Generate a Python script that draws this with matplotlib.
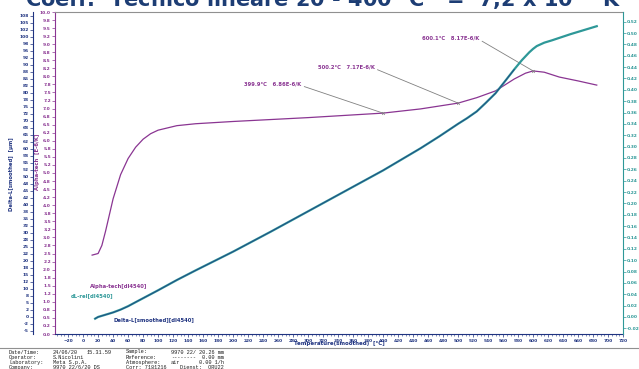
import numpy as np
import matplotlib
matplotlib.use("Agg")
import matplotlib.pyplot as plt
from matplotlib.ticker import FixedLocator, FuncFormatter, MultipleLocator
from matplotlib.lines import Line2D

# ---- data ----
t_alpha = [12, 20, 25, 30, 35, 40, 50, 60, 70, 80, 90, 100, 125, 150, 200, 250, 300,
           350, 400, 450, 500, 525, 550, 575, 590, 600, 615, 635, 660, 685]
alpha = [2.45, 2.5, 2.75, 3.2, 3.7, 4.2, 4.95, 5.45, 5.8, 6.05, 6.22, 6.33, 6.47, 6.53,
         6.6, 6.66, 6.72, 6.79, 6.86, 6.99, 7.17, 7.34, 7.55, 7.92, 8.1, 8.17, 8.13,
         7.98, 7.86, 7.73]

t_rel = [16, 20, 30, 40, 50, 60, 70, 80, 100, 125, 150, 200, 250, 300, 350, 400, 450,
         475, 500, 512, 525, 537, 550, 562, 575, 585, 595, 600, 605, 615, 625, 650, 685]
dl_rel = [-0.003, 0.000, 0.004, 0.008, 0.013, 0.019, 0.026, 0.033, 0.047, 0.065, 0.082,
          0.115, 0.150, 0.186, 0.222, 0.258, 0.297, 0.318, 0.340, 0.350, 0.362, 0.377,
          0.394, 0.414, 0.436, 0.452, 0.466, 0.472, 0.477, 0.483, 0.487, 0.498, 0.512]

t_dl = [16, 20, 30, 40, 50, 60, 70, 80, 100, 125, 150, 200, 250, 300, 350, 400, 450,
        475, 500, 512, 525, 537, 550, 562, 575]
dl_um = [-0.6, 0.0, 0.8, 1.6, 2.6, 3.8, 5.3, 6.7, 9.5, 13.2, 16.6, 23.3, 30.4, 37.7,
         45.0, 52.3, 60.2, 64.4, 68.9, 70.9, 73.3, 76.4, 79.8, 83.9, 88.3]

ann_t = [399.9, 500.2, 600.1]
ann_a = [6.86, 7.17, 8.17]
ann_txt = ["399.9°C   6.86E-6/K", "500.2°C   7.17E-6/K", "600.1°C   8.17E-6/K"]
ann_pos = [(215, 7.76), (313, 8.29), (452, 9.19)]

footer_left = [
    ["Date/Time:", "24/06/20", "15.31.59", "Sample:", "9970 22/"],
    ["Operator:", "S.Nicolini", "", "Reference:", "--------"],
    ["Laboratory:", "Meta S.p.A.", "", "Atmosphere:", "air"],
    ["Company:", "9970 22/6/20 DS", "", "Corr: 7181216", ""],
]
footer_right = ["20.26 mm", "0.00 mm", "0.00 1/h", "Dienst:  ORU22"]

PURPLE = "#8a3592"
TEAL = "#2e9898"
NAVY = "#1f3380"

plt.rcParams["font.weight"] = "bold"
fig = plt.figure(figsize=(6.39, 3.69), dpi=100)
W, H = 639, 369
ax = fig.add_axes([55 / W, 35 / H, 568 / W, 322 / H])
ax3 = ax.twinx()
ax2 = ax.twinx()

# alpha-tech curve (inner left axis)
ax.plot(t_alpha, alpha, color=PURPLE, lw=0.9)
ax.plot(ann_t, ann_a, ls="none", marker="x", ms=2, mew=0.5, color="gray")
for (tx, ty), s, xt, ya in zip(ann_pos, ann_txt, ann_t, ann_a):
    ax.annotate(s, xy=(xt, ya), xytext=(tx, ty), fontsize=3.8, color=PURPLE,
                va="center", ha="left",
                arrowprops=dict(arrowstyle="-", color="gray", lw=0.6,
                                shrinkA=0, shrinkB=0, relpos=(1.0, 0.2)))
ax.text(9, 1.46, "Alpha-tech[dl4540]", fontsize=3.8, color=PURPLE, va="center")

ax.set_xlim(-37.5, 720)
ax.set_ylim(0, 10)

# dL-rel on the right, Delta-L on the outer left (drawn on top)
ylo, yhi = -0.030, 0.537
ax3.plot(t_rel, dl_rel, color=TEAL, lw=1.6)
ax3.set_ylim(ylo, yhi)
ax2.plot(t_dl, dl_um, color=NAVY, lw=0.6, alpha=0.85)
ax2.set_ylim(ylo * 202.6, yhi * 202.6)
ax3.text(-17, 0.037, "dL-rel[dl4540]", fontsize=3.8, color=TEAL, va="center")
ax2.text(40, -1.0, "Delta-L[smoothed][dl4540]", fontsize=3.8, color=NAVY, va="center")

# spines
for a in (ax, ax2, ax3):
    for s in a.spines.values():
        s.set_visible(False)
ax.spines["top"].set_visible(True)
ax.spines["top"].set_color("#909090")
ax.spines["top"].set_linewidth(0.8)
ax.spines["bottom"].set_visible(True)
ax.spines["bottom"].set_color(NAVY)
ax.spines["left"].set_visible(True)
ax.spines["left"].set_color(PURPLE)
ax3.spines["right"].set_visible(True)
ax3.spines["right"].set_color(TEAL)
ax2.spines["left"].set_visible(True)
ax2.spines["left"].set_color(NAVY)
ax2.spines["left"].set_position(("axes", -22 / 568))
ax2.yaxis.set_ticks_position("left")
ax2.yaxis.set_label_position("left")

# ticks
ax.xaxis.set_major_locator(FixedLocator(np.arange(-20, 721, 20)))
ax.xaxis.set_minor_locator(MultipleLocator(5))
ax.tick_params(axis="x", which="major", labelsize=3.2, length=2.5, width=0.5,
               pad=1, colors=NAVY)
ax.tick_params(axis="x", which="minor", length=1.3, width=0.4, colors=NAVY)

ax.yaxis.set_major_locator(FixedLocator(np.round(np.arange(0, 10.01, 0.25), 2)))
ax.yaxis.set_major_formatter(FuncFormatter(lambda v, p: f"{v:.1f}"))
ax.tick_params(axis="y", labelsize=3.2, length=2, width=0.5, pad=1, colors=PURPLE)

ax2.yaxis.set_major_locator(FixedLocator(np.arange(-5, 108, 2.5)))
ax2.yaxis.set_major_formatter(FuncFormatter(lambda v, p: f"{int(round(v))}"))
ax2.tick_params(axis="y", labelsize=3.2, length=2, width=0.5, pad=1, colors=NAVY)

ax3.yaxis.set_major_locator(FixedLocator(np.round(np.arange(-0.02, 0.53, 0.02), 2)))
ax3.yaxis.set_major_formatter(FuncFormatter(lambda v, p: f"{v:.2f}"))
ax3.tick_params(axis="y", labelsize=3.2, length=2, width=0.5, pad=1, colors=TEAL)

# axis titles
fig.text(339 / W, 1 - 344 / H, "Temperature(smoothed)  [°C]", fontsize=4, color=NAVY,
         ha="center", va="center")
fig.text(12 / W, 1 - 174 / H, "Delta-L[smoothed]  [µm]", fontsize=3.8, color=NAVY,
         rotation=90, ha="center", va="center")
fig.text(37 / W, 1 - 162 / H, "Alpha-tech  [E-6/K]", fontsize=3.8, color=PURPLE,
         rotation=90, ha="center", va="center")

# title (cut off at the top of the picture)
fig.text(25 / W, 1 - 7 / H,
         "Coeff.  Tecnico lineare 20 - 400 °C   =  7,2 x 10$^{-6}$ K$^{-1}$",
         fontsize=15, color="#1d3d74", ha="left", va="baseline")

# footer block
fig.add_artist(Line2D([0, 1], [1 - 347.5 / H] * 2, transform=fig.transFigure,
                      color="#909090", lw=0.8))
cols = [9, 53, 87, 126, 171]
for i, row in enumerate(footer_left):
    y = 1 - (352 + 5.3 * i) / H
    for x, s in zip(cols, row):
        fig.text(x / W, y, s, fontsize=3.8, family="Liberation Mono",
                 fontweight="normal", color="#202020", va="center")
    fig.text(224 / W, y, footer_right[i], fontsize=3.8, family="Liberation Mono",
             fontweight="normal", color="#202020", va="center", ha="right")

fig.savefig("out.png", dpi=100)
